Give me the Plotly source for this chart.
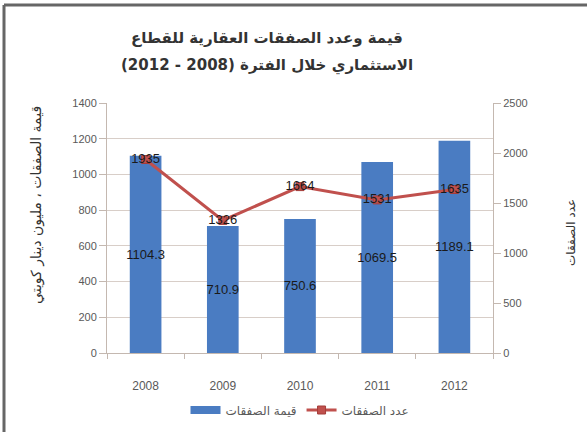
import plotly.graph_objects as go

years = ["2008", "2009", "2010", "2011", "2012"]
value_mkd = [1104.3, 710.9, 750.6, 1069.5, 1189.1]
deal_count = [1935, 1326, 1664, 1531, 1635]

title_line1 = "قيمة وعدد الصفقات العقارية للقطاع"
title_line2 = "الاستثماري خلال الفترة (2008 - 2012)"
y1_title = "قيمة الصفقات ، مليون دينار كويتي"
y2_title = "عدد الصفقات"
bar_name = "قيمة الصفقات"
line_name = "عدد الصفقات"

ar_font = "DejaVu Sans"
num_font = "Liberation Sans"
grid_c = "#d8cec8"
axis_c = "#c4b8b0"
tick_c = "#595959"
bar_c = "#4a7cc2"
line_c = "#c0504d"

fig = go.Figure()
fig.add_trace(go.Bar(
    x=years, y=value_mkd, name=bar_name, showlegend=False,
    marker=dict(color=bar_c, line=dict(width=0)),
    width=0.41,
    text=[f"{v:.1f}" for v in value_mkd],
    textposition="inside", insidetextanchor="middle",
    textangle=0, constraintext="none",
    textfont=dict(family=num_font, size=13, color="#1a1a1a"),
    yaxis="y",
))
# legend entry for the bars (wide rectangle key as in the reference)
fig.add_trace(go.Scatter(
    x=[None], y=[None], name=bar_name, mode="lines",
    line=dict(color=bar_c, width=8), yaxis="y",
))
fig.add_trace(go.Scatter(
    x=years, y=deal_count, name=line_name,
    mode="lines+markers+text",
    line=dict(color=line_c, width=3),
    marker=dict(symbol="square", size=8, color=line_c,
                line=dict(color="#a33c39", width=1)),
    text=[str(v) for v in deal_count],
    textposition="middle center",
    textfont=dict(family=num_font, size=13, color="#1a1a1a"),
    yaxis="y2",
))

fig.update_layout(
    width=587, height=432,
    margin=dict(l=107, r=94, t=103, b=79, autoexpand=False),
    paper_bgcolor="white", plot_bgcolor="white",
    showlegend=True,
    legend=dict(orientation="h", x=0.5, xanchor="center", y=-0.228, yanchor="middle",
                font=dict(family=ar_font, size=12, color=tick_c),
                itemwidth=30, bgcolor="rgba(0,0,0,0)"),
    xaxis=dict(
        type="category", automargin=False,
        showline=True, linecolor=axis_c, linewidth=1,
        ticks="outside", ticklen=5, tickcolor=axis_c,
        tickson="boundaries", ticklabelstandoff=22,
        tickfont=dict(family=num_font, size=12, color=tick_c),
        showgrid=False,
    ),
    yaxis=dict(
        range=[0, 1400], dtick=200, automargin=False,
        showline=True, linecolor=axis_c, linewidth=1,
        ticks="outside", ticklen=7, tickcolor=axis_c,
        tickfont=dict(family=num_font, size=11, color=tick_c),
        showgrid=True, gridcolor=grid_c, gridwidth=1,
        zeroline=False,
    ),
    yaxis2=dict(
        range=[0, 2500], dtick=500, automargin=False,
        overlaying="y", side="right",
        showline=True, linecolor=axis_c, linewidth=1,
        ticks="outside", ticklen=7, tickcolor=axis_c,
        tickfont=dict(family=num_font, size=11, color=tick_c),
        showgrid=False, zeroline=False,
    ),
    annotations=[
        dict(text="<b>" + title_line1 + "</b>", xref="paper", yref="paper",
             x=(267 - 107) / 386, y=(353 - 38) / 250, xanchor="center", yanchor="middle",
             showarrow=False,
             font=dict(family=ar_font, size=15, color="#333333")),
        dict(text="<b>" + title_line2 + "</b>", xref="paper", yref="paper",
             x=(267 - 107) / 386, y=(353 - 65) / 250, xanchor="center", yanchor="middle",
             showarrow=False,
             font=dict(family=ar_font, size=15, color="#333333")),
        dict(text=y1_title, xref="paper", yref="paper",
             x=(36 - 107) / 386, y=(353 - 205) / 250, xanchor="center", yanchor="middle",
             textangle=-90, showarrow=False,
             font=dict(family=ar_font, size=14, color="#333333")),
        dict(text=y2_title, xref="paper", yref="paper",
             x=(571 - 107) / 386, y=(353 - 233) / 250, xanchor="center", yanchor="middle",
             textangle=-90, showarrow=False,
             font=dict(family=ar_font, size=12, color="#333333")),
    ],
    shapes=[
        dict(type="line", xref="paper", yref="paper",
             x0=(4 - 107) / 386, x1=(587 - 107) / 386,
             y0=(353 - 5) / 250, y1=(353 - 5) / 250,
             line=dict(color="#666666", width=3)),
        dict(type="line", xref="paper", yref="paper",
             x0=(4 - 107) / 386, x1=(4 - 107) / 386,
             y0=(353 - 5) / 250, y1=(353 - 432) / 250,
             line=dict(color="#666666", width=3)),
    ],
)

fig.write_html("out.html")
